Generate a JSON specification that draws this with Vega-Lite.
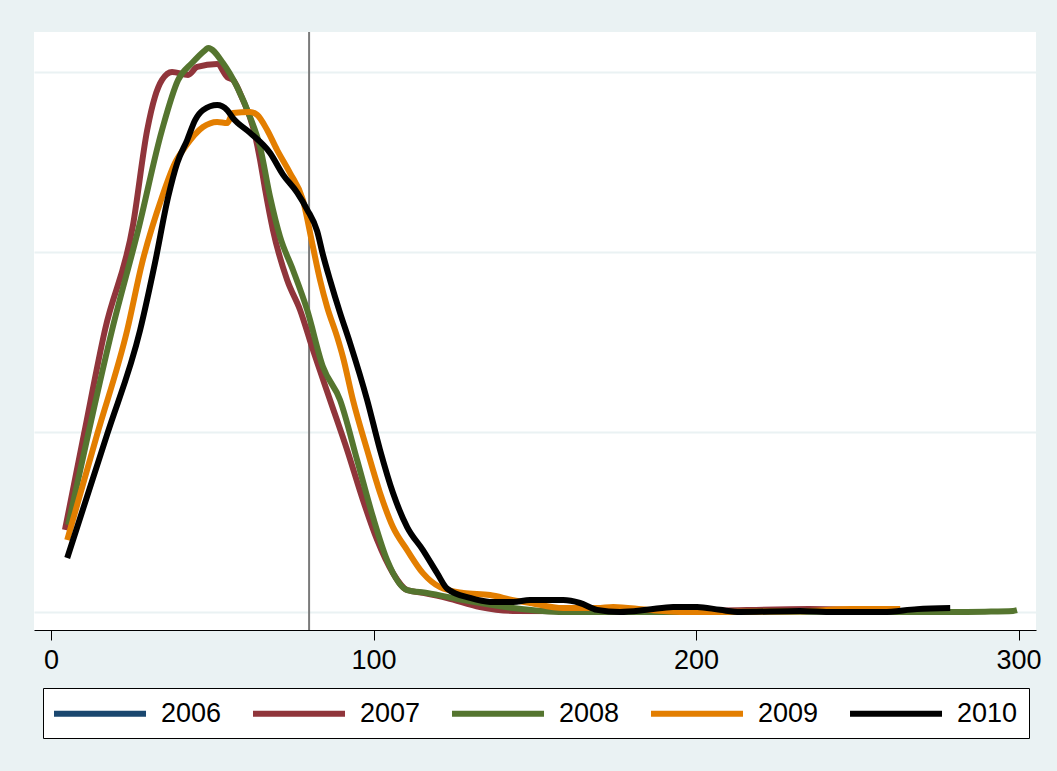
{
  "$schema": "https://vega.github.io/schema/vega-lite/v6.json",
  "autosize": "none",
  "width": 1002,
  "height": 598,
  "padding": {"left": 34, "top": 32, "right": 21, "bottom": 141},
  "background": "#EAF2F3",
  "config": {
    "view": {"fill": "white", "stroke": null},
    "font": "Liberation Sans"
  },
  "datasets": {
    "curves": [
      {"year": "2007", "x": 4.3, "density": 0.00228},
      {"year": "2007", "x": 10.2, "density": 0.00494},
      {"year": "2007", "x": 16.7, "density": 0.00783},
      {"year": "2007", "x": 25.4, "density": 0.01075},
      {"year": "2007", "x": 29.8, "density": 0.01339},
      {"year": "2007", "x": 32.2, "density": 0.01431},
      {"year": "2007", "x": 34.4, "density": 0.01478},
      {"year": "2007", "x": 37.5, "density": 0.015},
      {"year": "2007", "x": 42.5, "density": 0.01492},
      {"year": "2007", "x": 45.3, "density": 0.01514},
      {"year": "2007", "x": 51.5, "density": 0.01522},
      {"year": "2007", "x": 54.6, "density": 0.01486},
      {"year": "2007", "x": 56.4, "density": 0.01478},
      {"year": "2007", "x": 59.5, "density": 0.01422},
      {"year": "2007", "x": 62.6, "density": 0.01347},
      {"year": "2007", "x": 64.8, "density": 0.01256},
      {"year": "2007", "x": 66.4, "density": 0.01172},
      {"year": "2007", "x": 68.8, "density": 0.01061},
      {"year": "2007", "x": 73.2, "density": 0.00922},
      {"year": "2007", "x": 77.2, "density": 0.00839},
      {"year": "2007", "x": 81.2, "density": 0.00728},
      {"year": "2007", "x": 86.5, "density": 0.00589},
      {"year": "2007", "x": 91.8, "density": 0.0045},
      {"year": "2007", "x": 96.7, "density": 0.00311},
      {"year": "2007", "x": 101.1, "density": 0.002},
      {"year": "2007", "x": 106.0, "density": 0.00108},
      {"year": "2007", "x": 110.4, "density": 0.00061},
      {"year": "2007", "x": 115.3, "density": 0.00053},
      {"year": "2007", "x": 122.8, "density": 0.00039},
      {"year": "2007", "x": 133.0, "density": 0.00014},
      {"year": "2007", "x": 143.3, "density": 0.00003},
      {"year": "2007", "x": 170.0, "density": 0.00002},
      {"year": "2007", "x": 200.0, "density": 0.00003},
      {"year": "2007", "x": 235.0, "density": 0.00008},
      {"year": "2007", "x": 260.0, "density": 0.00003},
      {"year": "2007", "x": 272.0, "density": 0.0},

      {"year": "2008", "x": 5.3, "density": 0.00242},
      {"year": "2008", "x": 11.5, "density": 0.00494},
      {"year": "2008", "x": 18.9, "density": 0.00783},
      {"year": "2008", "x": 27.0, "density": 0.01061},
      {"year": "2008", "x": 34.4, "density": 0.01339},
      {"year": "2008", "x": 39.4, "density": 0.01478},
      {"year": "2008", "x": 43.7, "density": 0.01525},
      {"year": "2008", "x": 47.8, "density": 0.01561},
      {"year": "2008", "x": 48.7, "density": 0.01567},
      {"year": "2008", "x": 53.3, "density": 0.01525},
      {"year": "2008", "x": 57.7, "density": 0.01458},
      {"year": "2008", "x": 61.7, "density": 0.01375},
      {"year": "2008", "x": 64.8, "density": 0.01292},
      {"year": "2008", "x": 67.9, "density": 0.01153},
      {"year": "2008", "x": 71.0, "density": 0.01042},
      {"year": "2008", "x": 75.0, "density": 0.0095},
      {"year": "2008", "x": 79.4, "density": 0.00839},
      {"year": "2008", "x": 84.3, "density": 0.00681},
      {"year": "2008", "x": 89.6, "density": 0.00589},
      {"year": "2008", "x": 94.9, "density": 0.00422},
      {"year": "2008", "x": 99.8, "density": 0.00264},
      {"year": "2008", "x": 104.2, "density": 0.00144},
      {"year": "2008", "x": 110.4, "density": 0.00061},
      {"year": "2008", "x": 116.6, "density": 0.00053},
      {"year": "2008", "x": 127.8, "density": 0.00033},
      {"year": "2008", "x": 143.3, "density": 0.00011},
      {"year": "2008", "x": 158.8, "density": 0.0},
      {"year": "2008", "x": 201.0, "density": 0.0},
      {"year": "2008", "x": 240.0, "density": 0.00001},
      {"year": "2008", "x": 278.8, "density": 0.0},
      {"year": "2008", "x": 289.6, "density": 0.00001},
      {"year": "2008", "x": 298.3, "density": 0.00003},
      {"year": "2008", "x": 299.5, "density": 0.00005},

      {"year": "2009", "x": 5.0, "density": 0.002},
      {"year": "2009", "x": 14.3, "density": 0.00494},
      {"year": "2009", "x": 23.6, "density": 0.00783},
      {"year": "2009", "x": 28.2, "density": 0.00969},
      {"year": "2009", "x": 34.4, "density": 0.01153},
      {"year": "2009", "x": 38.4, "density": 0.01247},
      {"year": "2009", "x": 41.6, "density": 0.01292},
      {"year": "2009", "x": 47.1, "density": 0.01347},
      {"year": "2009", "x": 51.5, "density": 0.01361},
      {"year": "2009", "x": 54.6, "density": 0.01358},
      {"year": "2009", "x": 56.4, "density": 0.01386},
      {"year": "2009", "x": 61.7, "density": 0.01389},
      {"year": "2009", "x": 63.9, "density": 0.01381},
      {"year": "2009", "x": 67.0, "density": 0.01339},
      {"year": "2009", "x": 70.1, "density": 0.01283},
      {"year": "2009", "x": 74.1, "density": 0.01219},
      {"year": "2009", "x": 78.1, "density": 0.01144},
      {"year": "2009", "x": 81.2, "density": 0.01014},
      {"year": "2009", "x": 83.4, "density": 0.00922},
      {"year": "2009", "x": 85.6, "density": 0.00847},
      {"year": "2009", "x": 88.7, "density": 0.00764},
      {"year": "2009", "x": 90.5, "density": 0.00708},
      {"year": "2009", "x": 93.6, "density": 0.00589},
      {"year": "2009", "x": 98.0, "density": 0.0045},
      {"year": "2009", "x": 102.0, "density": 0.00331},
      {"year": "2009", "x": 106.0, "density": 0.00236},
      {"year": "2009", "x": 110.4, "density": 0.00172},
      {"year": "2009", "x": 115.3, "density": 0.00108},
      {"year": "2009", "x": 120.6, "density": 0.00069},
      {"year": "2009", "x": 127.8, "density": 0.00053},
      {"year": "2009", "x": 136.1, "density": 0.00047},
      {"year": "2009", "x": 143.3, "density": 0.00033},
      {"year": "2009", "x": 148.5, "density": 0.00025},
      {"year": "2009", "x": 158.8, "density": 0.00011},
      {"year": "2009", "x": 169.3, "density": 0.00011},
      {"year": "2009", "x": 174.3, "density": 0.00014},
      {"year": "2009", "x": 184.8, "density": 0.00006},
      {"year": "2009", "x": 195.0, "density": 0.0},
      {"year": "2009", "x": 205.3, "density": 0.0},
      {"year": "2009", "x": 232.2, "density": 0.00002},
      {"year": "2009", "x": 247.8, "density": 0.00008},
      {"year": "2009", "x": 263.3, "density": 0.00008},

      {"year": "2010", "x": 5.0, "density": 0.0015},
      {"year": "2010", "x": 17.4, "density": 0.00494},
      {"year": "2010", "x": 27.6, "density": 0.00783},
      {"year": "2010", "x": 32.2, "density": 0.00969},
      {"year": "2010", "x": 36.3, "density": 0.01153},
      {"year": "2010", "x": 39.1, "density": 0.01247},
      {"year": "2010", "x": 42.2, "density": 0.01311},
      {"year": "2010", "x": 44.7, "density": 0.01367},
      {"year": "2010", "x": 47.1, "density": 0.01394},
      {"year": "2010", "x": 51.5, "density": 0.01408},
      {"year": "2010", "x": 54.6, "density": 0.01394},
      {"year": "2010", "x": 56.4, "density": 0.01372},
      {"year": "2010", "x": 61.7, "density": 0.01331},
      {"year": "2010", "x": 67.9, "density": 0.01275},
      {"year": "2010", "x": 71.9, "density": 0.01215},
      {"year": "2010", "x": 76.3, "density": 0.01165},
      {"year": "2010", "x": 79.4, "density": 0.01118},
      {"year": "2010", "x": 82.5, "density": 0.01058},
      {"year": "2010", "x": 84.3, "density": 0.00992},
      {"year": "2010", "x": 86.5, "density": 0.00922},
      {"year": "2010", "x": 89.6, "density": 0.00831},
      {"year": "2010", "x": 92.7, "density": 0.00747},
      {"year": "2010", "x": 98.0, "density": 0.00589},
      {"year": "2010", "x": 102.0, "density": 0.0045},
      {"year": "2010", "x": 106.0, "density": 0.00331},
      {"year": "2010", "x": 110.4, "density": 0.00236},
      {"year": "2010", "x": 115.3, "density": 0.00172},
      {"year": "2010", "x": 119.7, "density": 0.00108},
      {"year": "2010", "x": 122.8, "density": 0.00065},
      {"year": "2010", "x": 129.9, "density": 0.00039},
      {"year": "2010", "x": 136.1, "density": 0.00028},
      {"year": "2010", "x": 143.3, "density": 0.00028},
      {"year": "2010", "x": 148.5, "density": 0.00033},
      {"year": "2010", "x": 158.8, "density": 0.00033},
      {"year": "2010", "x": 164.0, "density": 0.00025},
      {"year": "2010", "x": 169.3, "density": 0.00006},
      {"year": "2010", "x": 176.4, "density": 0.0},
      {"year": "2010", "x": 184.8, "density": 0.00006},
      {"year": "2010", "x": 192.9, "density": 0.00014},
      {"year": "2010", "x": 200.3, "density": 0.00014},
      {"year": "2010", "x": 207.4, "density": 0.00006},
      {"year": "2010", "x": 213.6, "density": 0.0},
      {"year": "2010", "x": 232.2, "density": 0.00003},
      {"year": "2010", "x": 242.5, "density": 0.0},
      {"year": "2010", "x": 258.0, "density": 0.0},
      {"year": "2010", "x": 268.5, "density": 0.00008},
      {"year": "2010", "x": 278.8, "density": 0.00011}
    ],
    "refline": [{"x": 80}]
  },
  "layer": [
    {
      "data": {"name": "refline"},
      "mark": {"type": "rule", "color": "#7a7a7a", "strokeWidth": 2},
      "encoding": {
        "x": {"field": "x", "type": "quantitative", "scale": {"domain": [-5.3, 305.4], "nice": false, "zero": false}}
      }
    },
    {
      "data": {"name": "curves"},
      "mark": {"type": "line", "strokeWidth": 6, "interpolate": "monotone", "strokeJoin": "round", "strokeCap": "butt"},
      "encoding": {
        "x": {
          "field": "x", "type": "quantitative",
          "scale": {"domain": [-5.3, 305.4], "nice": false, "zero": false},
          "axis": {
            "title": null, "values": [0, 100, 200, 300], "grid": false,
            "domainColor": "black", "domainWidth": 1, "tickColor": "black", "tickWidth": 1, "tickSize": 10,
            "labelFontSize": 27, "labelColor": "black", "labelFont": "Liberation Sans", "labelPadding": 7
          }
        },
        "y": {
          "field": "density", "type": "quantitative",
          "scale": {"domain": [-0.0005, 0.016111], "nice": false, "zero": false},
          "axis": {
            "title": null, "values": [0, 0.005, 0.01, 0.015], "grid": true, "gridColor": "#EAF2F3", "gridWidth": 2,
            "labels": false, "ticks": false, "domain": false
          }
        },
        "color": {
          "field": "year", "type": "nominal",
          "scale": {"domain": ["2006", "2007", "2008", "2009", "2010"], "range": ["#1a476f", "#90353b", "#55752f", "#e37e00", "#000000"]},
          "legend": {
            "title": null, "orient": "none", "legendX": 9, "legendY": 656,
            "direction": "horizontal", "columns": 5,
            "symbolType": "M-1.26,0L6.74,0", "symbolSize": 529, "symbolStrokeWidth": 6,
            "labelOffset": 78, "columnPadding": 19, "padding": 11,
            "strokeColor": "black", "fillColor": "white", "cornerRadius": 0,
            "labelFontSize": 27, "labelFont": "Liberation Sans", "labelColor": "black", "labelLimit": 0
          }
        }
      }
    }
  ]
}
